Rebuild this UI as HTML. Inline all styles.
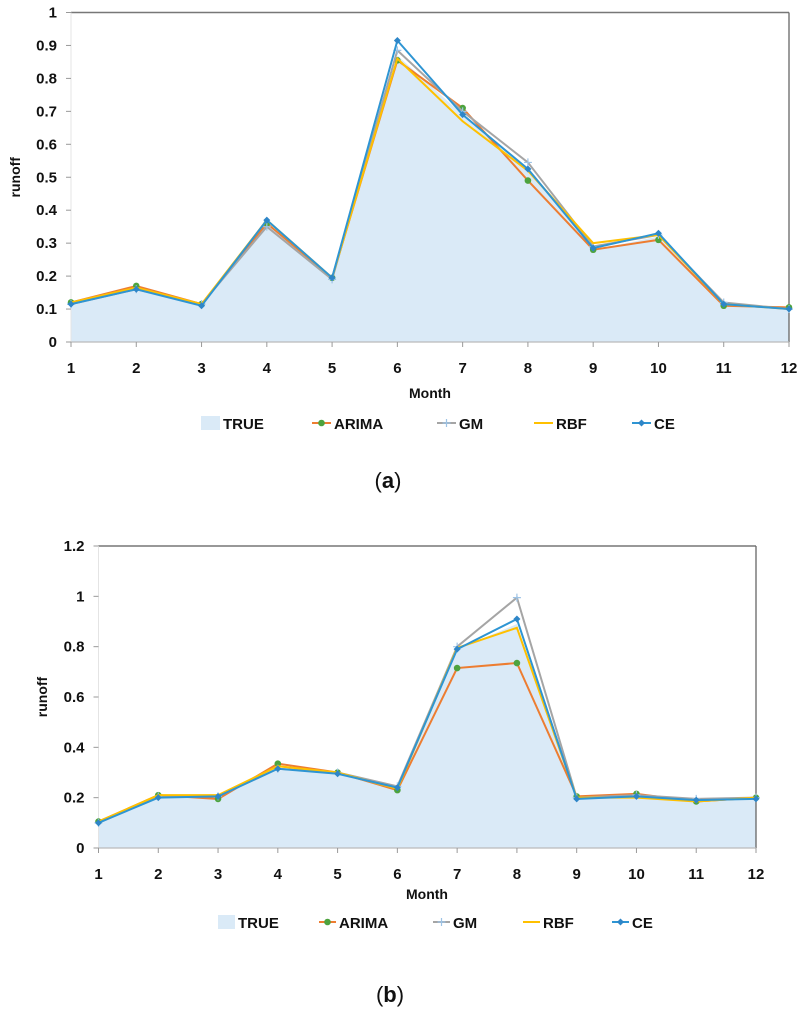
<!DOCTYPE html>
<html><head><meta charset="utf-8"><style>
body{margin:0;background:#fff;width:805px;height:1024px;overflow:hidden}
svg{display:block}
text{font-family:"Liberation Sans",Arial,sans-serif}
</style></head><body>
<svg id="svg" width="805" height="1024"></svg>
<script>
const months = [1,2,3,4,5,6,7,8,9,10,11,12];
const aTicks = [0,0.1,0.2,0.3,0.4,0.5,0.6,0.7,0.8,0.9,1];
const aTrue  = [0.115,0.16,0.11,0.36,0.195,0.87,0.69,0.52,0.28,0.32,0.115,0.10];
const aArima = [0.12,0.17,0.115,0.36,0.195,0.855,0.71,0.49,0.28,0.31,0.11,0.105];
const aGM    = [0.115,0.16,0.115,0.35,0.19,0.885,0.70,0.545,0.29,0.325,0.12,0.10];
const aRBF   = [0.12,0.165,0.115,0.37,0.195,0.86,0.67,0.52,0.30,0.325,0.115,0.10];
const aCE    = [0.115,0.16,0.11,0.37,0.195,0.915,0.69,0.525,0.285,0.33,0.115,0.10];
const bTicks = [0,0.2,0.4,0.6,0.8,1,1.2];
const bTrue  = [0.10,0.20,0.205,0.31,0.295,0.235,0.79,0.89,0.195,0.205,0.19,0.195];
const bArima = [0.105,0.21,0.195,0.335,0.30,0.23,0.715,0.735,0.205,0.215,0.185,0.20];
const bGM    = [0.10,0.205,0.205,0.315,0.30,0.245,0.80,0.995,0.20,0.21,0.195,0.20];
const bRBF   = [0.105,0.21,0.21,0.325,0.30,0.235,0.795,0.875,0.20,0.20,0.185,0.20];
const bCE    = [0.10,0.20,0.205,0.315,0.295,0.24,0.79,0.91,0.195,0.205,0.19,0.195];
const seriesNames = ["ARIMA","GM","RBF","CE"];

const NS="http://www.w3.org/2000/svg";
const svg=document.getElementById('svg');
function mk(tag,attrs,parent){const e=document.createElementNS(NS,tag);for(const k in attrs)e.setAttribute(k,attrs[k]);(parent||svg).appendChild(e);return e;}

function marker(g,kind,x,y){
  if(kind==="ARIMA"){const m=mk('circle',{cx:x,cy:y,r:3.3,fill:'#4DA33E'},g);}
  else if(kind==="GM"){const m=mk('path',{d:`M${x-4},${y}H${x+4}M${x},${y-4}V${y+4}`,stroke:'#9DC3E6','stroke-width':1.2},g);}
  else if(kind==="CE"){const m=mk('path',{d:`M${x},${y-3.5}L${x+3.5},${y}L${x},${y+3.5}L${x-3.5},${y}Z`,fill:'#2E86C8'},g);}
}

function chart(cfg){
  const g=mk('g',{});
  
  
  const X=m=>cfg.x0+(m-1)*(cfg.x1-cfg.x0)/11;
  const Y=v=>cfg.y0-(v/cfg.ymax)*(cfg.y0-cfg.y1);
  // area
  let d=`M${X(1)},${Y(0)}`;
  cfg.tru.forEach((v,i)=>d+=`L${X(months[i])},${Y(v)}`);
  d+=`L${X(12)},${Y(0)}Z`;
  const area=mk('path',{d,fill:'#DAEAF7'},g);
  
  
  // frame
  const top=mk('line',{x1:cfg.x0,y1:cfg.y1,x2:cfg.x1,y2:cfg.y1,stroke:'#777','stroke-width':1.5},g);
  
  
  const right=mk('line',{x1:cfg.x1,y1:cfg.y1,x2:cfg.x1,y2:cfg.y0,stroke:'#666','stroke-width':1.3},g);
  
  
  const yax=mk('line',{x1:cfg.x0,y1:cfg.y1,x2:cfg.x0,y2:cfg.y0,stroke:'#e4e4e4','stroke-width':1},g);
  
  
  const xax=mk('line',{x1:cfg.x0,y1:cfg.y0,x2:cfg.x1,y2:cfg.y0,stroke:'#bbb','stroke-width':1.2},g);
  
  
  cfg.ticks.forEach(t=>{
    const tk=mk('line',{x1:cfg.x0-5,y1:Y(t),x2:cfg.x0,y2:Y(t),stroke:'#999'},g);
    
    
    const tl=mk('text',{x:cfg.x0-14,y:Y(t)+5,'text-anchor':'end','font-size':15,'font-weight':'bold',fill:'#111'},g);
    tl.textContent=String(t);
    
    
  });
  months.forEach(m=>{
    const tk=mk('line',{x1:X(m),y1:cfg.y0,x2:X(m),y2:cfg.y0+5,stroke:'#999'},g);
    
    
    const tl=mk('text',{x:X(m),y:cfg.y0+31,'text-anchor':'middle','font-size':15,'font-weight':'bold',fill:'#111'},g);
    tl.textContent=String(m);
    
    
  });
  const colors={ARIMA:'#ED7D31',GM:'#A5A5A5',RBF:'#FFC000',CE:'#2E95D3'};
  seriesNames.forEach(n=>{
    const vals=cfg.series[n];
    const pts=vals.map((v,i)=>`${X(months[i])},${Y(v)}`).join(' ');
    const pl=mk('polyline',{points:pts,fill:'none',stroke:colors[n],'stroke-width':2},g);
    
    
    vals.forEach((v,i)=>marker(g,n,X(months[i]),Y(v)));
  });
  const yt=mk('text',{x:0,y:0,transform:`translate(${cfg.ytx},${(cfg.y0+cfg.y1)/2}) rotate(-90)`,'text-anchor':'middle','font-size':14,'font-weight':'bold',fill:'#111'},g);
  yt.textContent='runoff';
  
  
  const xt=mk('text',{x:cfg.mx,y:cfg.my,'text-anchor':'middle','font-size':14,'font-weight':'bold',fill:'#111'},g);
  xt.textContent='Month';
  
  
  // legend
  const L=cfg.leg, ly=L.y;
  const sw=mk('rect',{x:L.pos[0],y:ly-7,width:L.sw,height:14,fill:'#DAEAF7'},g);
  
  
  const t0=mk('text',{x:L.pos[0]+L.sw+3,y:ly+6,'font-size':15,'font-weight':'bold',fill:'#111'},g);
  t0.textContent='TRUE';
  
  
  seriesNames.forEach((n,i)=>{
    const x=L.pos[i+1];
    const ln=mk('line',{x1:x,y1:ly,x2:x+L.sw,y2:ly,stroke:colors[n],'stroke-width':2},g);
    
    
    marker(g,n,x+L.sw/2,ly);
    const t=mk('text',{x:x+L.sw+3,y:ly+6,'font-size':15,'font-weight':'bold',fill:'#111'},g);
    t.textContent=n;
    
    
  });
  const cap=mk('text',{x:cfg.capx,y:cfg.capy,'text-anchor':'middle','font-size':22,fill:'#111','font-family':'Liberation Serif, serif'},g);
  cap.innerHTML='(<tspan font-weight="bold">'+cfg.cap+'</tspan>)';
  
  
}

chart({name:'chart-a',x0:71,x1:789,y0:342,y1:12.5,ymax:1,ticks:aTicks,tru:aTrue,
  series:{ARIMA:aArima,GM:aGM,RBF:aRBF,CE:aCE},ytx:20,mx:430,my:398,
  leg:{y:423,sw:19,pos:[201,312,437,534,632]},cap:'a',capx:388,capy:488});
chart({name:'chart-b',x0:98.5,x1:756,y0:848,y1:546,ymax:1.2,ticks:bTicks,tru:bTrue,
  series:{ARIMA:bArima,GM:bGM,RBF:bRBF,CE:bCE},ytx:47,mx:427,my:899,
  leg:{y:922,sw:17,pos:[218,319,433,523,612]},cap:'b',capx:390,capy:1002});
</script>
</body></html>
